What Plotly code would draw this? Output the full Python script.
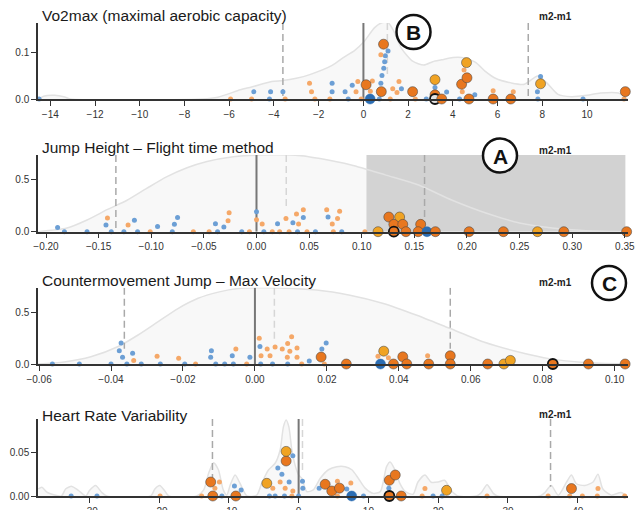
import plotly.graph_objects as go

# ---------------- data ----------------
titles = ["Vo2max (maximal aerobic capacity)",
          "Jump Height \u2013 Flight time method",
          "Countermovement Jump \u2013 Max Velocity",
          "Heart Rate Variability"]
diff_label = "m2-m1"
markers_letters = ["B", "A", "C"]

# density curves (x, density)
vo2_density = [(-14.5, 0.0), (-14.3, 0.006), (-13.8, 0.008), (-13.4, 0.005), (-13.1, 0.0),
               (-7.2, 0.0), (-6.5, 0.004), (-5.5, 0.02), (-5.0, 0.026), (-4.1, 0.038),
               (-3.6, 0.04), (-3.0, 0.045), (-2.4, 0.053), (-1.4, 0.073), (-0.9, 0.09),
               (-0.4, 0.105), (0.0, 0.123), (0.5, 0.155), (0.8, 0.165), (1.1, 0.166),
               (1.35, 0.148), (1.7, 0.11), (2.2, 0.082), (2.7, 0.074), (3.1, 0.081),
               (3.5, 0.085), (4.0, 0.09), (4.4, 0.09), (5.0, 0.08), (5.45, 0.06),
               (5.9, 0.045), (6.6, 0.035), (7.2, 0.032), (7.8, 0.05), (8.2, 0.035),
               (8.7, 0.01), (9.3, 0.005), (10.0, 0.008), (10.6, 0.013), (11.4, 0.013),
               (11.8, 0.0)]
jump_density = [(-0.208, 0.0), (-0.18, 0.035), (-0.161, 0.112), (-0.142, 0.21), (-0.123, 0.30),
                (-0.104, 0.415), (-0.085, 0.525), (-0.066, 0.61), (-0.047, 0.67), (-0.022, 0.716),
                (0.004, 0.732), (0.042, 0.726), (0.059, 0.70), (0.09, 0.636), (0.123, 0.54),
                (0.154, 0.446), (0.186, 0.30), (0.218, 0.178), (0.25, 0.083), (0.281, 0.035),
                (0.313, 0.01), (0.352, 0.0)]
cmj_density = [(-0.0605, 0.0), (-0.053, 0.02), (-0.0456, 0.07), (-0.038, 0.17), (-0.0326, 0.28),
               (-0.027, 0.41), (-0.0214, 0.54), (-0.0158, 0.64), (-0.0102, 0.70), (-0.0047, 0.735),
               (0.0028, 0.743), (0.0171, 0.72), (0.0264, 0.67), (0.0357, 0.59), (0.045, 0.475),
               (0.0543, 0.345), (0.0636, 0.215), (0.073, 0.12), (0.0822, 0.05), (0.0915, 0.015),
               (0.1035, 0.0)]
hrv_density = [(-37.3, 0.008), (-36.8, 0.010), (-36.0, 0.004), (-34.0, 0.0), (-33.4, 0.008),
               (-32.5, 0.011), (-31.5, 0.006), (-30.5, 0.0), (-30.0, 0.006), (-29.1, 0.012),
               (-28.2, 0.004), (-27.5, 0.0), (-21.2, 0.0), (-20.6, 0.008), (-19.9, 0.012),
               (-19.2, 0.006), (-18.6, 0.0), (-14.6, 0.0), (-13.6, 0.007), (-12.9, 0.026),
               (-12.2, 0.038), (-11.5, 0.030), (-10.8, 0.007), (-10.3, 0.001), (-9.8, 0.0126),
               (-9.1, 0.024), (-8.4, 0.0145), (-7.4, 0.0), (-6.0, 0.001), (-5.3, 0.0145),
               (-4.3, 0.03), (-3.37, 0.0374), (-2.65, 0.0526), (-2.18, 0.079), (-1.79, 0.087),
               (-1.4, 0.079), (-0.97, 0.0526), (-0.5, 0.035), (0.0, 0.024), (0.46, 0.02),
               (1.17, 0.005), (2.1, 0.007), (3.08, 0.02), (4.27, 0.03), (5.47, 0.0335),
               (6.66, 0.0335), (7.62, 0.03), (8.57, 0.02), (9.53, 0.009), (10.7, 0.003),
               (11.7, 0.005), (12.6, 0.0335), (13.1, 0.039), (13.8, 0.03), (14.5, 0.0145),
               (15.3, 0.005), (16.4, 0.002), (17.1, 0.016), (18.1, 0.024), (19.0, 0.0157),
               (20.0, 0.016), (20.9, 0.018), (21.9, 0.006), (22.85, 0.0), (25.5, 0.0),
               (26.2, 0.004), (27.0, 0.013), (27.9, 0.003), (28.5, 0.0), (34.6, 0.0),
               (35.3, 0.004), (36.2, 0.012), (37.2, 0.001), (38.4, 0.016), (39.1, 0.024),
               (39.8, 0.014), (41.0, 0.012), (42.2, 0.016), (42.9, 0.025), (43.6, 0.008),
               (44.8, 0.001), (46.2, 0.004), (47.0, 0.0)]

# small dots (x, stacked height)
vo2_blue = [(-14.5, 0), (-4.9, 0.016), (-4.15, 0.016), (-3.6, 0.016), (-4.2, 0), (-1.4, 0.034),
            (-1.4, 0.016), (-0.82, 0.016), (-0.68, 0), (-0.5, 0.03), (0.71, 0), (0.78, 0.034),
            (0.83, 0.051), (0.91, 0.067), (0.95, 0.081), (0.98, 0.094), (1.1, 0.104), (1.7, 0.022),
            (2.81, 0), (3.2, 0.025), (3.72, 0.015), (4.3, 0), (4.98, 0.009), (7.8, 0), (7.78, 0.016),
            (7.92, 0.049), (9.82, 0)]
vo2_orange = [(-5.94, 0), (-5.0, 0), (-3.5, 0), (-2.41, 0.034), (-2.32, 0.016), (-2.17, 0),
              (-1.5, 0), (-0.33, 0.016), (-0.25, 0.038), (-0.1, 0), (0.31, 0.017), (0.4, 0.039),
              (0.78, 0.096), (1.2, 0), (1.31, 0.022), (1.59, 0.038), (1.5, 0.014), (2.32, 0),
              (4.42, 0.016), (4.5, 0.063), (5.8, 0.018), (6.7, 0.016), (11.65, 0)]
jump_blue = [(-0.209, 0), (-0.189, 0.04), (-0.1825, 0), (-0.161, 0), (-0.143, 0.065), (-0.138, 0),
             (-0.126, 0), (-0.116, 0.11), (-0.113, 0), (-0.094, 0.05), (-0.08, 0), (-0.078, 0.07),
             (-0.075, 0.135), (-0.039, 0.075), (-0.037, 0), (-0.031, 0.045), (-0.014, 0), (0.0, 0.19),
             (0.007, 0), (0.02, 0.075), (0.0346, 0.085), (0.039, 0), (0.0445, 0.135), (0.056, 0),
             (0.068, 0.14), (0.081, 0)]
jump_orange = [(-0.1416, 0.13), (-0.122, 0.065), (-0.101, 0), (-0.06, 0), (-0.045, 0), (-0.027, 0.105),
               (-0.026, 0.18), (-0.0067, 0), (0.0, 0.115), (0.0054, 0.073), (0.015, 0), (0.022, 0),
               (0.028, 0.125), (0.031, 0), (0.038, 0.17), (0.0445, 0.21), (0.04, 0.073), (0.048, 0),
               (0.0667, 0.21), (0.072, 0.073), (0.077, 0.125), (0.079, 0.195), (0.073, 0), (0.103, 0)]
cmj_blue = [(-0.061, 0), (-0.0563, 0), (-0.0488, 0), (-0.04, 0), (-0.0372, 0.205), (-0.0377, 0.13),
            (-0.0368, 0.065), (-0.0356, 0), (-0.034, 0.105), (-0.0316, 0), (-0.0263, 0), (-0.0195, 0),
            (-0.0121, 0.13), (-0.0123, 0.065), (-0.0109, 0), (-0.0084, 0), (-0.0063, 0.08), (-0.006, 0),
            (-0.0014, 0.065), (0.0014, 0.17), (0.0016, 0), (0.0049, 0), (0.0091, 0), (0.0151, 0.03),
            (0.0186, 0.145), (0.0198, 0.205)]
cmj_orange = [(-0.0337, 0.035), (-0.0272, 0.075), (-0.0212, 0.055), (-0.0165, 0), (-0.0053, 0.145),
              (-0.0023, 0), (0.0012, 0.25), (0.0017, 0.08), (0.0034, 0.145), (0.0042, 0.08),
              (0.0056, 0.165), (0.0076, 0.145), (0.0091, 0.2), (0.0097, 0.125), (0.0102, 0.265),
              (0.0117, 0.155), (0.0117, 0.065), (0.009, 0.065), (0.013, 0), (0.0193, 0),
              (0.0342, 0.075), (0.0371, 0.06), (0.048, 0.08)]
hrv_blue = [(-37.36, 0), (-32.6, 0), (-28.9, 0), (-11.0, 0), (-9.2, 0.0114), (-8.24, 0.007),
            (-4.18, 0), (-3.37, 0), (-2.98, 0.032), (-2.4, 0.025), (-1.93, 0.038), (-1.36, 0.016),
            (-2.03, 0), (-0.83, 0.046), (0.0, 0), (0.55, 0.017), (0.6, 0.009), (2.94, 0.009),
            (6.9, 0.008), (9.3, 0), (12.93, 0.009), (19.27, 0), (20.56, 0)]
hrv_orange = [(-19.85, 0), (-13.9, 0), (-12.0, 0.009), (-11.35, 0.016), (-3.7, 0.009), (-2.65, 0.016),
              (-1.93, 0.009), (-0.97, 0), (-0.83, 0.0057), (5.56, 0.017), (5.56, 0), (7.48, 0.015),
              (17.7, 0), (18.1, 0.0085), (27.0, 0), (35.75, 0), (38.85, 0), (40.66, 0),
              (42.9, 0.0085), (42.8, 0), (46.73, 0)]

# large dots (x, height, kind) kind: o=orange g=gold b=blue s=selected r=selected ring
vo2_big = [(0.12, 0.031, "o"), (0.3, 0, "b"), (0.8, 0.016, "o"), (0.9, 0.119, "o"), (2.2, 0.016, "o"),
           (3.2, 0.042, "g"), (3.2, 0.009, "o"), (3.2, 0, "r"), (3.5, 0, "o"), (4.39, 0.032, "o"),
           (4.63, 0.046, "o"), (4.61, 0.079, "g"), (4.72, 0, "o"), (5.8, 0, "o"), (6.59, 0, "o"),
           (7.92, 0.033, "g"), (11.71, 0.016, "o")]
jump_big = [(0.1155, 0, "g"), (0.1257, 0.14, "o"), (0.136, 0.14, "g"), (0.1305, 0.07, "o"),
            (0.139, 0.07, "o"), (0.1305, 0, "s"), (0.142, 0, "o"), (0.156, 0.07, "o"), (0.1536, 0, "o"),
            (0.162, 0, "b"), (0.170, 0, "o"), (0.202, 0, "o"), (0.2346, 0, "o"), (0.267, 0, "g"),
            (0.292, 0, "o"), (0.3517, 0, "o")]
cmj_big = [(0.0184, 0.068, "o"), (0.0254, 0, "o"), (0.0349, 0, "b"), (0.0358, 0.125, "g"),
           (0.0385, 0, "o"), (0.0411, 0.07, "o"), (0.0422, 0, "o"), (0.0483, 0, "o"), (0.0543, 0.08, "o"),
           (0.0543, 0, "o"), (0.0647, 0, "o"), (0.0692, 0, "g"), (0.071, 0.035, "g"), (0.0828, 0, "s"),
           (0.0927, 0, "o"), (0.1029, 0, "o")]
hrv_big = [(-12.6, 0.016, "o"), (-12.3, 0, "o"), (-9.0, 0, "o"), (-4.56, 0.0145, "g"), (-1.79, 0.040, "o"),
           (-1.79, 0.051, "g"), (3.8, 0.0134, "o"), (4.75, 0.0057, "o"), (5.85, 0.009, "o"), (7.6, 0, "b"),
           (13.0, 0.018, "o"), (13.85, 0.024, "o"), (13.0, 0, "s"), (14.7, 0, "o"), (21.2, 0.0065, "g"),
           (39.1, 0.0085, "o")]

# reference lines
dark_dashes = [[-3.6, 7.37], [-0.1336, 0.1597], [-0.0363, 0.0543], [-12.35, 36.1]]
light_dashes = [[1.07], [0.0283], [0.0054], [0.55]]
jump_highlight = [0.1045, 0.3505]

# axis settings
x_ranges = [[-14.55, 11.83], [-0.2076, 0.353], [-0.0603, 0.1037], [-37.35, 47.2]]
x_dticks = [2, 0.05, 0.02, 10]
x_formats = ["d", ".2f", ".2f", "d"]
y_tops = [0.165, 0.732, 0.743, 0.088]
y_ticks = [[0, 0.1], [0, 0.5], [0, 0.5], [0, 0.05]]
y_formats = [".1f", ".1f", ".1f", ".2f"]

# ---------------- figure ----------------
W, H, ML, MR = 638, 510, 38, 10
PW = W - ML - MR
def px(x):
    return (x - ML) / PW
def py(y):
    return 1 - y / H

panel_px = [(23, 99), (155, 231.7), (287.7, 364), (419, 496)]  # top, baseline in pixels
title_y = [15, 147, 280, 415]
m_label_y = [16, 150, 282, 414]
dash_floor = [0.03, 0.0, 0.2, 0.12]

densities = [vo2_density, jump_density, cmj_density, hrv_density]
blues = [vo2_blue, jump_blue, cmj_blue, hrv_blue]
oranges = [vo2_orange, jump_orange, cmj_orange, hrv_orange]
bigs = [vo2_big, jump_big, cmj_big, hrv_big]

BIG_FILL = {"o": "#e8771f", "g": "#f0a323", "b": "#2b6db3", "s": "#e8771f", "r": "#e4e4e4"}
BIG_LINE = {"o": "rgba(70,70,70,0.55)", "g": "rgba(70,70,70,0.55)", "b": "rgba(43,109,179,1)",
            "s": "#111111", "r": "#111111"}
BIG_LW = {"o": 1, "g": 1, "b": 0.5, "s": 1.8, "r": 1.8}

fig = go.Figure()
layout = dict(width=W, height=H, margin=dict(l=ML, r=MR, t=0, b=0, autoexpand=False),
              paper_bgcolor="white", plot_bgcolor="white", showlegend=False,
              font=dict(family="Liberation Sans, Arial, sans-serif", color="#333"))
shapes, annotations = [], []

for i in range(4):
    n = "" if i == 0 else str(i + 1)
    xa, ya = "x" + n, "y" + n
    top = y_tops[i]
    if i == 1:
        fig.add_trace(go.Scatter(
            x=[jump_highlight[0], jump_highlight[1], jump_highlight[1], jump_highlight[0], jump_highlight[0]],
            y=[0, 0, top * 1.01, top * 1.01, 0], fill="toself", mode="lines",
            line=dict(width=0), fillcolor="rgba(165,165,165,0.5)", xaxis=xa, yaxis=ya,
            hoverinfo="skip"))
    dens = densities[i]
    fig.add_trace(go.Scatter(x=[d[0] for d in dens], y=[d[1] for d in dens], mode="lines",
                             line=dict(color="#e2e2e2", width=1.5, shape="spline", smoothing=0.7),
                             fill="tozeroy", fillcolor="rgba(215,215,215,0.18)",
                             xaxis=xa, yaxis=ya, hoverinfo="skip"))
    for xv in light_dashes[i]:
        fig.add_trace(go.Scatter(x=[xv, xv], y=[top, top * 0.3], mode="lines",
                                 line=dict(color="#d6d6d6", width=1.5, dash="7px,4px"),
                                 xaxis=xa, yaxis=ya, hoverinfo="skip"))
    for xv in dark_dashes[i]:
        fig.add_trace(go.Scatter(x=[xv, xv], y=[top, top * dash_floor[i]], mode="lines",
                                 line=dict(color="#a9a9a9", width=1.5, dash="7px,4px"),
                                 xaxis=xa, yaxis=ya, hoverinfo="skip"))
    fig.add_trace(go.Scatter(x=[0, 0], y=[0, top], mode="lines",
                             line=dict(color="#777777", width=2), xaxis=xa, yaxis=ya, hoverinfo="skip"))
    for pts, col in ((blues[i], "#6c9fd5"), (oranges[i], "#f5a868")):
        fig.add_trace(go.Scatter(x=[p[0] for p in pts], y=[p[1] for p in pts], mode="markers",
                                 marker=dict(size=5, color=col, line=dict(width=0)),
                                 cliponaxis=False, xaxis=xa, yaxis=ya))
    big = bigs[i]
    fig.add_trace(go.Scatter(x=[p[0] for p in big], y=[p[1] for p in big], mode="markers",
                             marker=dict(size=10, color=[BIG_FILL[p[2]] for p in big],
                                         line=dict(color=[BIG_LINE[p[2]] for p in big],
                                                   width=[BIG_LW[p[2]] for p in big])),
                             cliponaxis=False, xaxis=xa, yaxis=ya))

    t, b = panel_px[i]
    axis_common = dict(showline=True, linecolor="#333", linewidth=1.5, ticks="outside",
                       ticklen=5, tickwidth=1, tickcolor="#333", showgrid=False, zeroline=False,
                       automargin=False, tickfont=dict(size=10, color="#333"))
    layout["xaxis" + n] = dict(axis_common, domain=[0, 1], anchor=ya, range=x_ranges[i],
                               dtick=x_dticks[i], tick0=0, tickformat=x_formats[i])
    layout["yaxis" + n] = dict(axis_common, domain=[py(b), py(t)], anchor=xa, range=[0, top],
                               tickvals=y_ticks[i], tickformat=y_formats[i])
    annotations.append(dict(text=titles[i], xref="paper", yref="paper", x=px(40), y=py(title_y[i]),
                            xanchor="left", yanchor="middle", showarrow=False,
                            font=dict(size=15.5, color="#1a1a1a")))
    annotations.append(dict(text="<b>" + diff_label + "</b>", xref="paper", yref="paper",
                            x=px(555), y=py(m_label_y[i]), xanchor="center", yanchor="middle",
                            showarrow=False, font=dict(size=10, color="#222")))

circle_centers = [(413.5, 32), (500, 155.5), (609, 283)]
R = 17
for letter, (cx, cy) in zip(markers_letters, circle_centers):
    shapes.append(dict(type="circle", xref="paper", yref="paper", x0=px(cx - R), x1=px(cx + R),
                       y0=py(cy + R), y1=py(cy - R), line=dict(color="#111", width=2.5),
                       fillcolor="white", layer="above"))
    annotations.append(dict(text="<b>" + letter + "</b>", xref="paper", yref="paper", x=px(cx),
                            y=py(cy + 0.5), xanchor="center", yanchor="middle", showarrow=False,
                            font=dict(size=21, color="#111")))

layout["shapes"] = shapes
layout["annotations"] = annotations
fig.update_layout(**layout)
fig.write_html("out.html", config={"displayModeBar": False},
               post_script="document.body.style.margin='0';document.body.style.overflow='hidden';")
